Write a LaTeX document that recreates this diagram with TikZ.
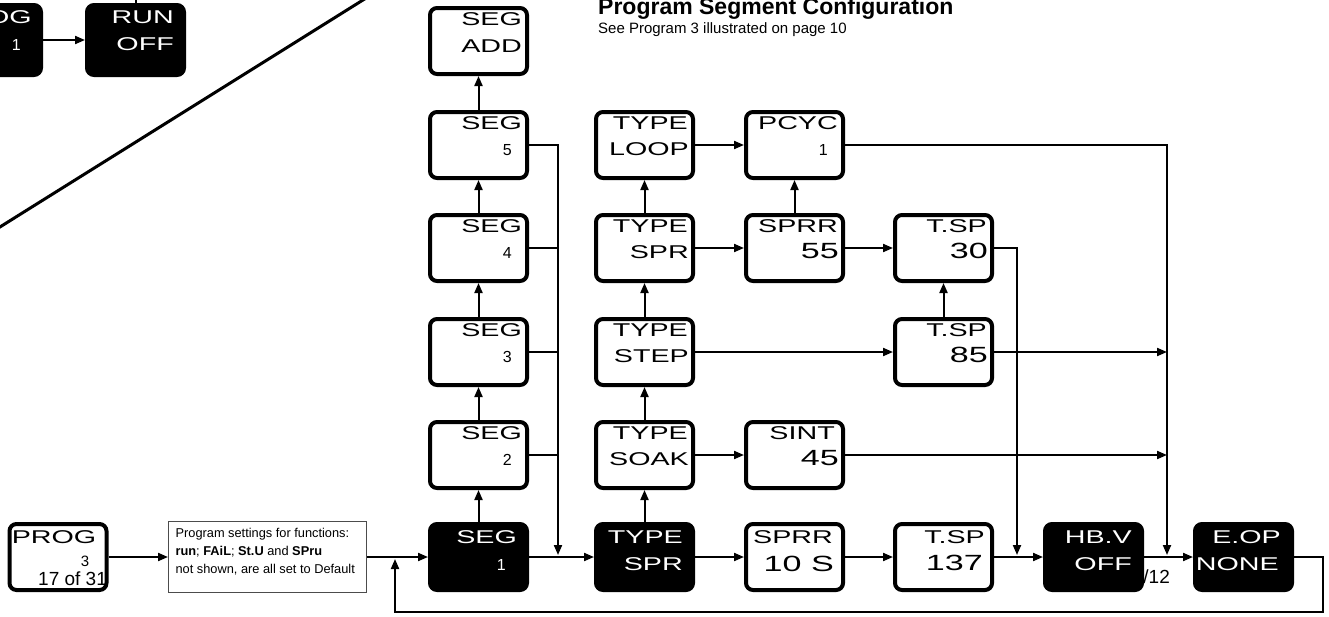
\documentclass[tikz,border=0pt]{standalone}
\usepackage{fontspec}
\setmainfont{Liberation Sans}
\newfontfamily\lcdfont[FakeStretch=1.55]{Liberation Sans}
\usepackage{tikz}
\usetikzlibrary{positioning,
                calc,
                arrows.meta}

\begin{document}
\begin{tikzpicture}[x=1pt,y=-1pt]

\tikzset{
wbox/.style={
draw=black,
line width=4pt,
rounded corners=7pt,
fill=white,
minimum width=97pt,
minimum height=66pt,
inner sep=0pt
},
bbox/.style={
wbox,
fill=black
},
lab/.style={
anchor=base east,
inner sep=0pt,
font=\lcdfont\fontsize{18.5}{18.5}\selectfont
},
blab/.style={
lab,
text=white
},
big/.style={
lab,
font=\lcdfont\fontsize{22}{22}\selectfont
},
num/.style={
anchor=base east,
inner sep=0pt,
font=\fontsize{16}{16}\selectfont
},
bnum/.style={
num,
text=white
},
foot/.style={
inner sep=0pt,
font=\fontsize{19}{19}\selectfont
},
notebox/.style={
draw=black!70,
line width=1.3pt,
fill=white,
minimum width=197.7pt,
minimum height=70.7pt
},
notetext/.style={
anchor=north west,
align=left,
inner sep=0pt,
font=\fontsize{12.8}{18}\selectfont
},
conn/.style={
line width=2pt,
-{Triangle[length=10pt,width=8pt]}
},
link/.style={
line width=2pt
}
}

\clip (0,0) rectangle (1329,616);

%--------------------------------------------------
% HEADER
%--------------------------------------------------

\node[anchor=base west,inner sep=0pt,font=\bfseries\fontsize{23}{23}\selectfont] (title) at (598,14.5) {Program Segment Configuration};
\node[anchor=base west,inner sep=0pt,font=\fontsize{15}{15}\selectfont] (subtitle) at (598,33) {See Program 3 illustrated on page 10};

%--------------------------------------------------
% TOP LEFT CORNER
%--------------------------------------------------

\node[bbox,minimum height=70pt] (progt) at (-7.5,40) {};
\node[blab] at ([shift={(-11,20)}]progt.north east) {PROG};
\node[bnum] at ([shift={(-22,47)}]progt.north east) {1};

\node[bbox,minimum height=70pt] (run) at (135.5,40) {};
\node[blab] at ([shift={(-12,20)}]run.north east) {RUN};
\node[blab] at ([shift={(-12,47)}]run.north east) {OFF};

\draw[conn] (progt.east) -- (run.west);
\draw[link] (run.north) -- ++(0,-6);
\draw[line width=3pt] (-10,233.2) -- (375,-7.5);

%--------------------------------------------------
% SEGMENT COLUMN
%--------------------------------------------------

\node[wbox] (segadd) at (478.5,41) {};
\node[lab] at ([shift={(-7,19)}]segadd.north east) {SEG};
\node[lab] at ([shift={(-7,46)}]segadd.north east) {ADD};

\node[wbox] (seg5) at (478.5,145) {};
\node[lab] at ([shift={(-7,19)}]seg5.north east) {SEG};
\node[num] at ([shift={(-17,45)}]seg5.north east) {5};

\node[wbox] (seg4) at (478.5,248) {};
\node[lab] at ([shift={(-7,19)}]seg4.north east) {SEG};
\node[num] at ([shift={(-17,45)}]seg4.north east) {4};

\node[wbox] (seg3) at (478.5,352) {};
\node[lab] at ([shift={(-7,19)}]seg3.north east) {SEG};
\node[num] at ([shift={(-17,45)}]seg3.north east) {3};

\node[wbox] (seg2) at (478.5,455) {};
\node[lab] at ([shift={(-7,19)}]seg2.north east) {SEG};
\node[num] at ([shift={(-17,45)}]seg2.north east) {2};

\node[bbox] (seg1) at (478.5,557) {};
\node[blab] at ([shift={(-12,21)}]seg1.north east) {SEG};
\node[bnum] at ([shift={(-23,48)}]seg1.north east) {1};

%--------------------------------------------------
% TYPE COLUMN
%--------------------------------------------------

\node[wbox] (loop) at (644.5,145) {};
\node[lab] at ([shift={(-7,19)}]loop.north east) {TYPE};
\node[lab] at ([shift={(-6,45)}]loop.north east) {LOOP};

\node[wbox] (typespr) at (644.5,248) {};
\node[lab] at ([shift={(-7,19)}]typespr.north east) {TYPE};
\node[lab] at ([shift={(-6,45)}]typespr.north east) {SPR};

\node[wbox] (step) at (644.5,352) {};
\node[lab] at ([shift={(-7,19)}]step.north east) {TYPE};
\node[lab] at ([shift={(-6,45)}]step.north east) {STEP};

\node[wbox] (soak) at (644.5,455) {};
\node[lab] at ([shift={(-7,19)}]soak.north east) {TYPE};
\node[lab] at ([shift={(-6,45)}]soak.north east) {SOAK};

\node[bbox] (typeb) at (644.5,557) {};
\node[blab] at ([shift={(-12,21)}]typeb.north east) {TYPE};
\node[blab] at ([shift={(-12,48)}]typeb.north east) {SPR};

%--------------------------------------------------
% RATE / DWELL COLUMN
%--------------------------------------------------

\node[wbox] (pcyc) at (794.5,145) {};
\node[lab] at ([shift={(-7,19)}]pcyc.north east) {PCYC};
\node[num] at ([shift={(-17,45)}]pcyc.north east) {1};

\node[wbox] (sprr55) at (794.5,248) {};
\node[lab] at ([shift={(-7,19)}]sprr55.north east) {SPRR};
\node[big] at ([shift={(-6,45)}]sprr55.north east) {55};

\node[wbox] (sint) at (794.5,455) {};
\node[lab] at ([shift={(-10,19)}]sint.north east) {SINT};
\node[big] at ([shift={(-6,45)}]sint.north east) {45};

\node[wbox] (sprr10) at (794.5,557) {};
\node[lab] at ([shift={(-12,21)}]sprr10.north east) {SPRR};
\node[big] at ([shift={(-11,49)}]sprr10.north east) {10 S};

%--------------------------------------------------
% TARGET SETPOINT COLUMN
%--------------------------------------------------

\node[wbox] (tsp30) at (943.5,248) {};
\node[lab] at ([shift={(-7,19)}]tsp30.north east) {T.SP};
\node[big] at ([shift={(-6,45)}]tsp30.north east) {30};

\node[wbox] (tsp85) at (943.5,352) {};
\node[lab] at ([shift={(-7,19)}]tsp85.north east) {T.SP};
\node[big] at ([shift={(-6,45)}]tsp85.north east) {85};

\node[wbox] (tsp137) at (943.5,557) {};
\node[lab] at ([shift={(-9,21)}]tsp137.north east) {T.SP};
\node[big] at ([shift={(-11,48)}]tsp137.north east) {137};

%--------------------------------------------------
% END OF PROGRAM
%--------------------------------------------------

\node[foot,anchor=base east] (pgdate) at (1170,583) {/12};

\node[bbox] (hbv) at (1093.5,557) {};
\node[blab] at ([shift={(-12,21)}]hbv.north east) {HB.V};
\node[blab] at ([shift={(-12,48)}]hbv.north east) {OFF};

\node[bbox] (eop) at (1243.5,557) {};
\node[blab] at ([shift={(-13,21)}]eop.north east) {E.OP};
\node[blab] at ([shift={(-15,48)}]eop.north east) {NONE};

%--------------------------------------------------
% PROGRAM ENTRY
%--------------------------------------------------

\node[wbox] (progb) at (58,557) {};
\node[lab] at ([shift={(-12,21)}]progb.north east) {PROG};
\node[num,font=\fontsize{15}{15}\selectfont] at ([shift={(-19,44)}]progb.north east) {3};

\begin{scope}
\clip (0,500) rectangle (108,600);
\node[foot,anchor=base west] (pgnum) at (38,585) {17 of 31};
\end{scope}

\node[notebox] (note) at (267.5,557) {};
\node[notetext] (notetxt) at ([shift={(7.4,7)}]note.north west) {Program settings for functions:\\\textbf{run}; \textbf{FAiL}; \textbf{St.U} and \textbf{SPru}\\not shown, are all set to Default};

%--------------------------------------------------
% CONNECTORS
%--------------------------------------------------

\coordinate (j0) at (395,559);
\coordinate (j1) at (558,555);
\coordinate (j2) at (1017,555);
\coordinate (j3) at (1167,555);

\draw[conn] (progb.east) -- (progb.east -| note.west);
\draw[conn] (note.east) -- (seg1.west);

\draw[conn] (seg1) -- (seg2);
\draw[conn] (seg2) -- (seg3);
\draw[conn] (seg3) -- (seg4);
\draw[conn] (seg4) -- (seg5);
\draw[conn] (seg5) -- (segadd);

\draw[conn] (seg5.east) -| (j1);
\draw[link] (seg4.east) -- (seg4.east -| j1);
\draw[link] (seg3.east) -- (seg3.east -| j1);
\draw[link] (seg2.east) -- (seg2.east -| j1);

\draw[conn] (seg1) -- (typeb);
\draw[conn] (typeb) -- (soak);
\draw[conn] (soak) -- (step);
\draw[conn] (step) -- (typespr);
\draw[conn] (typespr) -- (loop);

\draw[conn] (loop) -- (pcyc);
\draw[conn] (typespr) -- (sprr55);
\draw[conn] (sprr55) -- (pcyc);
\draw[conn] (sprr55) -- (tsp30);
\draw[conn] (step) -- (tsp85);
\draw[conn] (tsp85) -- (tsp30);
\draw[conn] (soak) -- (sint);

\draw[conn] (pcyc.east) -| (j3);
\draw[conn] (tsp85.east) -- (tsp85.east -| j3);
\draw[conn] (sint.east) -- (sint.east -| j3);
\draw[conn] (tsp30.east) -| (j2);

\draw[conn] (typeb) -- (sprr10);
\draw[conn] (sprr10) -- (tsp137);
\draw[conn] (tsp137) -- (hbv);
\draw[conn] (hbv) -- (eop);

\draw[conn] (eop.east) -- ++(29,0) -- ++(0,55) -| (j0);

\end{tikzpicture}
\end{document}
